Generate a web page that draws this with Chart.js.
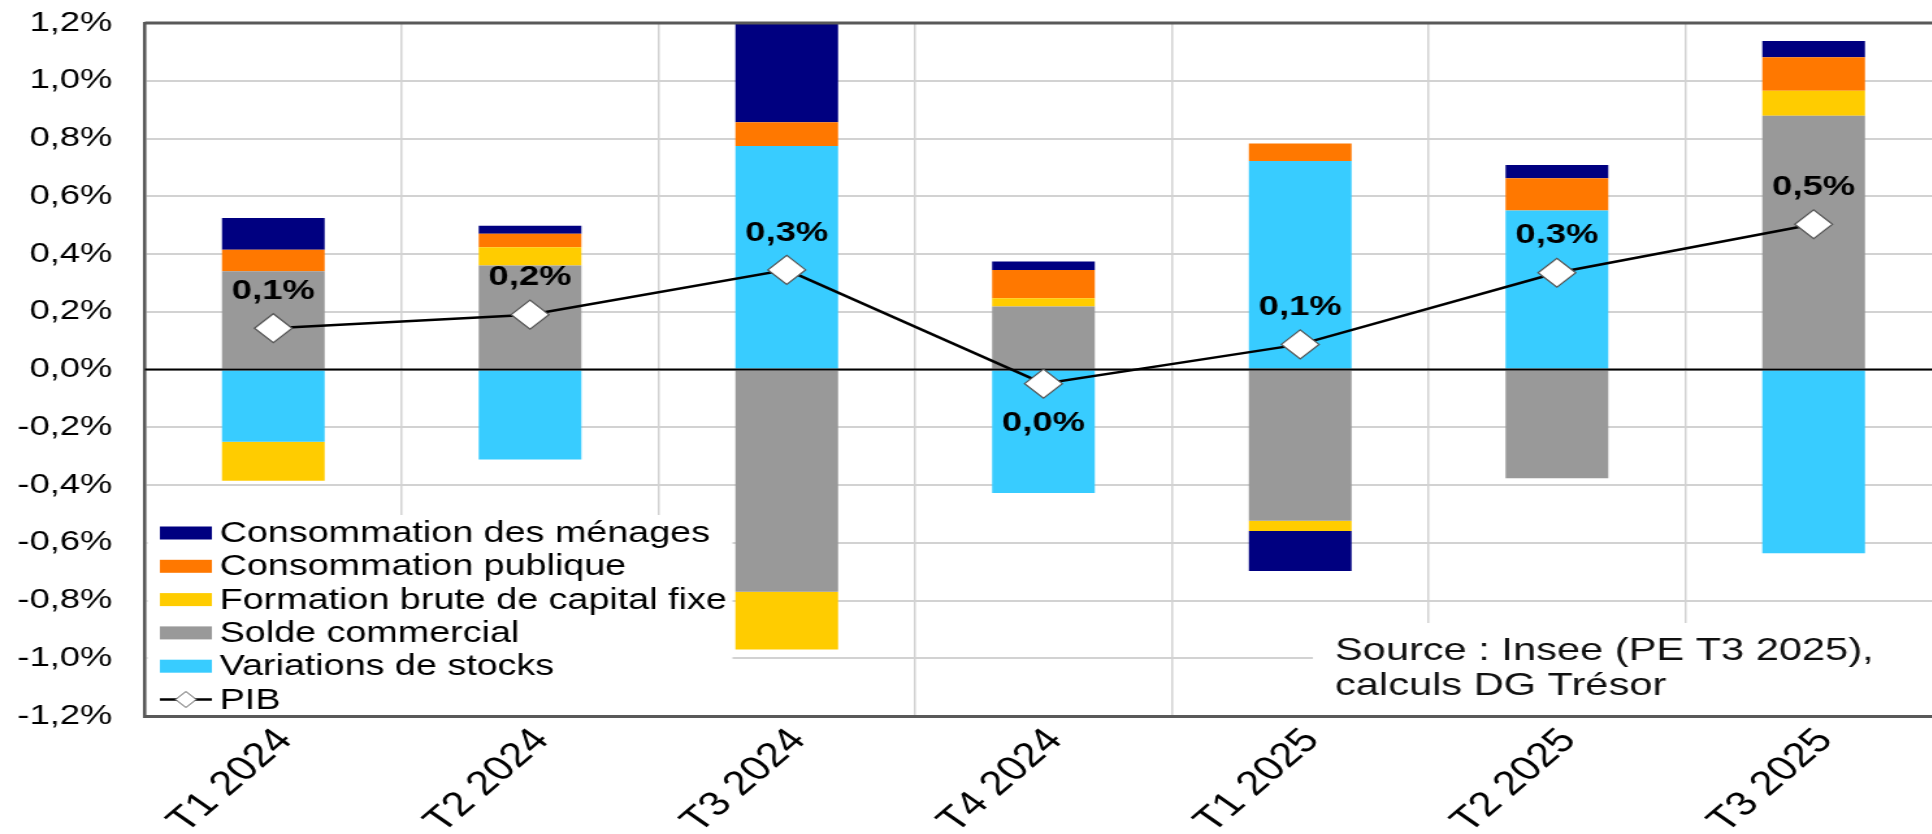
<!DOCTYPE html>
<html lang="fr">
<head>
<meta charset="utf-8">
<title>Contributions à la croissance du PIB</title>
<script src="https://cdn.jsdelivr.net/npm/chart.js@4"></script>
<style>
  html, body { margin: 0; padding: 0; background: #fff; overflow: hidden; }
</style>
</head>
<body>
<!-- the source picture is stretched sideways, so the canvas is drawn narrow and widened;
     its plot runs a little past the right edge of the window -->
<canvas id="chart" width="1494" height="834" style="display:block;width:1942px;height:834px"></canvas>
<script>
const quarters = ['T1 2024', 'T2 2024', 'T3 2024', 'T4 2024', 'T1 2025', 'T2 2025', 'T3 2025'];

// contributions, in points of GDP growth
const stocks   = [-0.25, -0.312, 0.774, -0.428, 0.722, 0.551, -0.636];
const solde    = [0.34, 0.36, -0.77, 0.218, -0.524, -0.377, 0.879];
const fbcf     = [-0.135, 0.063, -0.20, 0.029, -0.035, 0, 0.086];
const publique = [0.075, 0.047, 0.082, 0.098, 0.061, 0.111, 0.116];
const menages  = [0.11, 0.028, 0.46, 0.029, -0.139, 0.046, 0.057];
const pib      = [0.143, 0.19, 0.345, -0.049, 0.087, 0.335, 0.503];

const yMin = -1.2, yMax = 1.2, yStep = 0.2;
const sourceLines = ['Source : Insee (PE T3 2025),', 'calculs DG Trésor'];

const FONT = 'Arial, "Liberation Sans", sans-serif';
const pct = v => v.toFixed(1).replace('.', ',') + '%';

function bar(label, data, color) {
  return { type: 'bar', label, data, backgroundColor: color, borderWidth: 0, order: 1, clip: 0,
           barPercentage: 0.4, categoryPercentage: 1 };
}

// legend box, source note, zero line and PIB labels
const extras = {
  id: 'extras',
  beforeDatasetsDraw(chart) {
    const { ctx, chartArea: a } = chart;
    ctx.save();
    ctx.fillStyle = '#fff';
    ctx.fillRect(a.left + 2, 515, 450, a.bottom - 516);
    ctx.fillRect(1010, 623, a.right - 1010, a.bottom - 624);

    ctx.font = `29px ${FONT}`;
    ctx.textBaseline = 'middle';
    const bars = chart.data.datasets.filter(d => d.type === 'bar').reverse();
    bars.forEach((ds, i) => {
      const y = 533 + i * 33.3;
      ctx.fillStyle = ds.backgroundColor;
      ctx.fillRect(123, y - 6.5, 40, 13);
      ctx.fillStyle = '#000';
      ctx.fillText(ds.label, 169, y + 1);
    });
    const line = chart.data.datasets.find(d => d.type === 'line');
    const y = 533 + bars.length * 33.3;
    ctx.strokeStyle = '#000';
    ctx.lineWidth = 2.5;
    ctx.beginPath(); ctx.moveTo(123, y); ctx.lineTo(163, y); ctx.stroke();
    ctx.fillStyle = '#fff';
    ctx.strokeStyle = '#555';
    ctx.lineWidth = 1;
    ctx.beginPath();
    ctx.moveTo(135, y); ctx.lineTo(143, y - 8); ctx.lineTo(151, y); ctx.lineTo(143, y + 8);
    ctx.closePath(); ctx.fill(); ctx.stroke();
    ctx.fillStyle = '#000';
    ctx.fillText(line.label, 169, y + 1);

    ctx.font = `32px ${FONT}`;
    ctx.fillStyle = '#111';
    sourceLines.forEach((t, i) => ctx.fillText(t, 1027, 651 + i * 35));
    ctx.restore();
  },
  beforeDatasetDraw(chart, args) {
    if (chart.data.datasets[args.index].type !== 'line') return;
    const { ctx, chartArea: a, scales } = chart;
    const y0 = scales.y.getPixelForValue(0);
    ctx.save();
    ctx.strokeStyle = '#000';
    ctx.lineWidth = 2;
    ctx.beginPath(); ctx.moveTo(a.left, y0); ctx.lineTo(a.right, y0); ctx.stroke();
    ctx.strokeStyle = '#595959';
    ctx.lineWidth = 3;
    ctx.beginPath(); ctx.moveTo(a.left, a.top); ctx.lineTo(a.right, a.top); ctx.stroke();
    ctx.restore();
  },
  afterDatasetsDraw(chart) {
    const { ctx } = chart;
    const idx = chart.data.datasets.findIndex(d => d.type === 'line');
    ctx.save();
    ctx.font = `bold 28px ${FONT}`;
    ctx.fillStyle = '#000';
    ctx.textAlign = 'center';
    ctx.textBaseline = 'middle';
    chart.getDatasetMeta(idx).data.forEach((pt, i) => {
      const v = pib[i];
      const txt = pct(Math.abs(v) < 0.05 ? 0 : v);
      ctx.fillText(txt, pt.x, v < 0 ? pt.y + 40 : pt.y - 37);
    });
    ctx.restore();
  }
};

new Chart(document.getElementById('chart'), {
  data: {
    labels: quarters,
    datasets: [
      bar('Variations de stocks', stocks, '#38ccff'),
      bar('Solde commercial', solde, '#999999'),
      bar('Formation brute de capital fixe', fbcf, '#ffcc00'),
      bar('Consommation publique', publique, '#ff7800'),
      bar('Consommation des ménages', menages, '#000080'),
      {
        type: 'line', label: 'PIB', data: pib, stack: 'pib', order: 0,
        borderColor: '#000', borderWidth: 2.5, tension: 0,
        pointStyle: 'rectRot', pointRadius: 14.5, pointHoverRadius: 14.5,
        pointBackgroundColor: '#fff', pointBorderColor: '#555', pointBorderWidth: 1.2
      }
    ]
  },
  options: {
    responsive: false,
    devicePixelRatio: 1,
    animation: false,
    layout: { autoPadding: false, padding: { top: 23, right: 0, bottom: 0, left: 0 } },
    plugins: { legend: { display: false }, tooltip: { enabled: false } },
    scales: {
      x: {
        stacked: true,
        grid: { color: '#d2d2d2', lineWidth: 1.5, drawTicks: false, offset: true },
        border: { color: '#595959', width: 3 },
        ticks: { color: '#000', font: { size: 34, family: FONT }, minRotation: 48, maxRotation: 48,
                 autoSkip: false, padding: 5, labelOffset: 9 },
        afterFit: s => {
          s.height = 118;
          s.paddingLeft = 0;
          s.paddingRight = 0;
        }
      },
      y: {
        stacked: true,
        min: yMin,
        max: yMax,
        grid: { color: '#d2d2d2', lineWidth: 2, drawTicks: false },
        border: { color: '#595959', width: 2.5 },
        ticks: { stepSize: yStep, color: '#000', font: { size: 28, family: FONT }, padding: 25,
                 callback: v => pct(v) },
        afterFit: s => {
          s.width = 111.5;
          // the tick padding must not push the plot down
          s.paddingTop = 0;
          s.paddingBottom = 0;
        }
      }
    }
  },
  plugins: [extras]
});
</script>
</body>
</html>
